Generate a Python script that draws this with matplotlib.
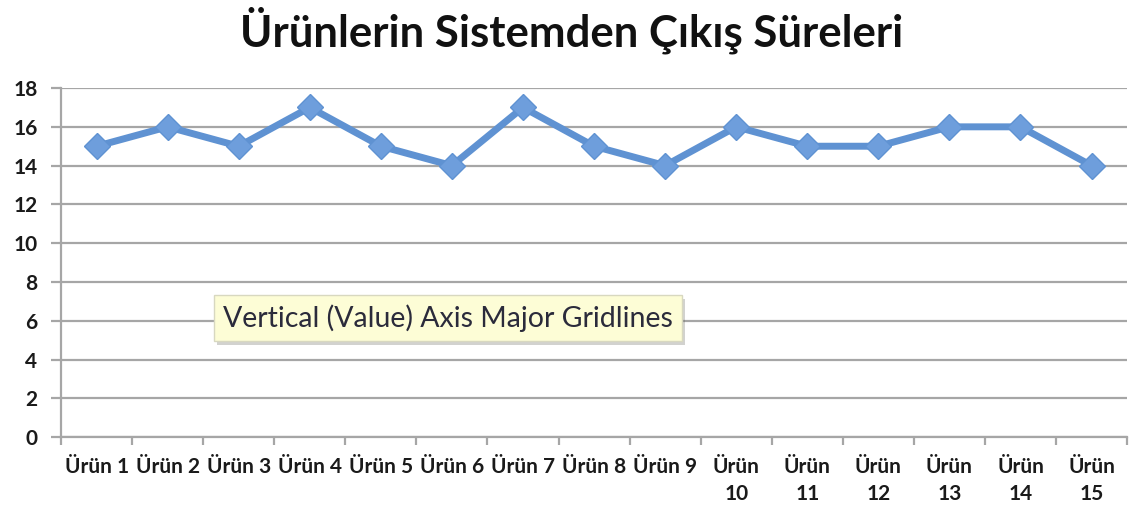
import matplotlib
matplotlib.use("Agg")
import matplotlib.pyplot as plt
import matplotlib.patheffects as pe
import numpy as np

plt.rcParams['font.family'] = ['Lato', 'DejaVu Sans']

urunler = ["Ürün 1", "Ürün 2", "Ürün 3", "Ürün 4", "Ürün 5", "Ürün 6", "Ürün 7",
           "Ürün 8", "Ürün 9", "Ürün\n10", "Ürün\n11", "Ürün\n12", "Ürün\n13",
           "Ürün\n14", "Ürün\n15"]
sureler = [15, 16, 15, 17, 15, 14, 17, 15, 14, 16, 15, 15, 16, 16, 14]
y_ticks = [0, 2, 4, 6, 8, 10, 12, 14, 16, 18]

fig = plt.figure(figsize=(11.31, 5.21), dpi=100)
ax = fig.add_axes([0.054, 0.161, 0.9425, 0.67])

x = np.arange(len(urunler))
ax.plot(x, sureler, color='#5F92D2', linewidth=5, marker='D', markersize=13,
        markerfacecolor='#6E9EDC', markeredgecolor='#5F92D2', zorder=3)

ax.set_xlim(-0.5, len(urunler) - 0.5)
ax.set_ylim(0, 18)
ax.set_yticks(y_ticks)
ax.set_yticklabels([str(v) for v in y_ticks], fontsize=15, fontweight='bold', color='#1a1a1a')
ax.yaxis.grid(True, color='#a6a6a6', linewidth=1.6)
ax.set_axisbelow(True)
ax.tick_params(axis='y', length=7, width=1.6, color='#a6a6a6', pad=10)

# category labels between the boundary ticks
ax.set_xticks(np.arange(len(urunler) + 1) - 0.5)
ax.set_xticklabels([])
ax.set_xticks(x, minor=True)
ax.set_xticklabels(urunler, minor=True, fontsize=15, fontweight='bold', color='#1a1a1a',
                   va='top', linespacing=1.45)
ax.tick_params(axis='x', which='major', length=6, width=1.6, color='#a6a6a6')
ax.tick_params(axis='x', which='minor', length=0, pad=14)

for s in ['top', 'right']:
    ax.spines[s].set_visible(False)
ax.spines['left'].set_color('#a6a6a6')
ax.spines['left'].set_linewidth(1.6)
ax.spines['bottom'].set_color('#a6a6a6')
ax.spines['bottom'].set_linewidth(1.6)

fig.text(0.505, 0.942, 'Ürünlerin Sistemden Çıkış Süreleri', ha='center', va='center',
         fontsize=31.5, fontweight='bold', color='#111111')

# tooltip shown in the screenshot
tip = ax.text(1.78, 6.15, 'Vertical (Value) Axis Major Gridlines', fontsize=20.5,
              color='#2b2b3b', va='center', ha='left', zorder=5,
              bbox=dict(boxstyle='square,pad=0.32', facecolor='#fdfdd6',
                        edgecolor='#d8d8c0', linewidth=1))
tip.get_bbox_patch().set_path_effects([pe.SimplePatchShadow(offset=(2, -3), alpha=0.25),
                                       pe.Normal()])

fig.savefig('out.png', dpi=100)
